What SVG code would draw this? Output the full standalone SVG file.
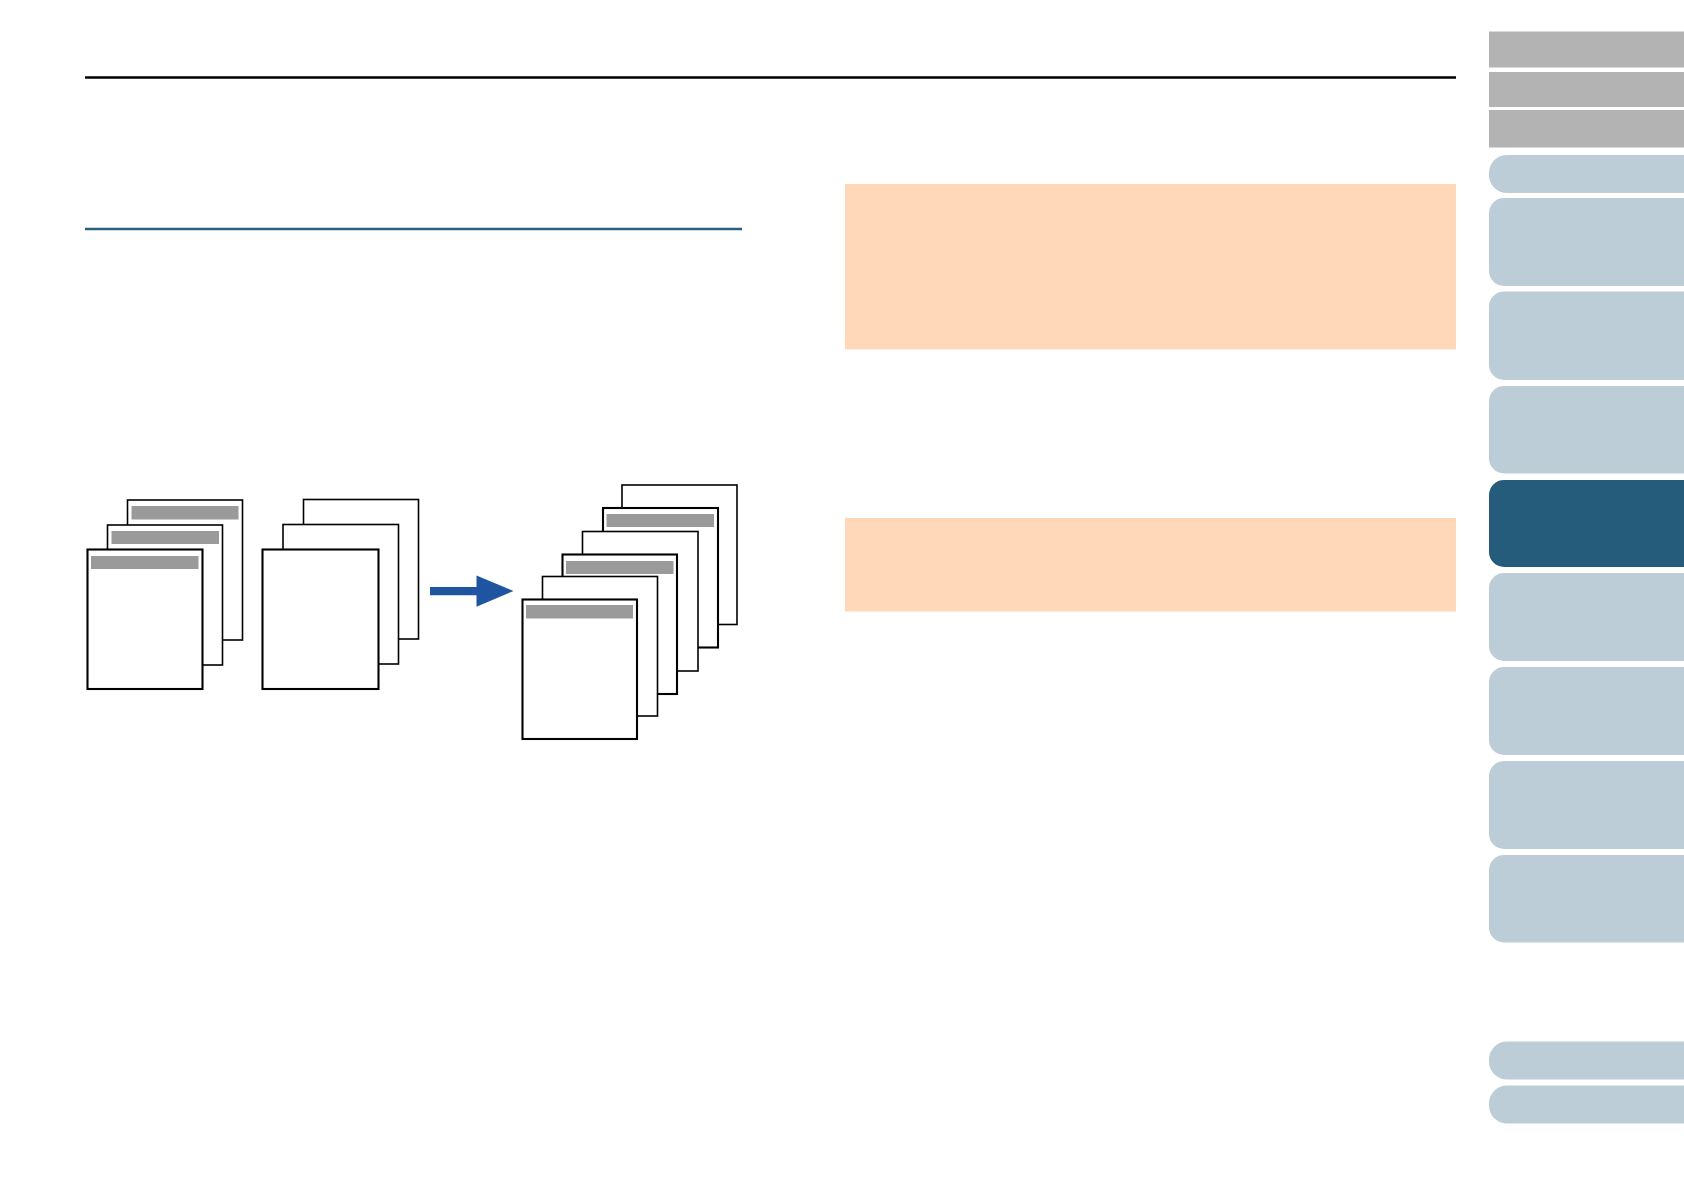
<svg xmlns="http://www.w3.org/2000/svg" width="1684" height="1190" viewBox="0 0 1684 1190">
<style>
.pg{fill:#fff;stroke:#000;stroke-width:1.6}
.pgk{fill:#fff;stroke:#000;stroke-width:2.1}
.bar{fill:#9a9a9a}
.note{fill:#fed8b9}
.tg{fill:#b3b3b3}
.tl{fill:#bdcdd8}
.td{fill:#255b7b}
</style>
<rect width="1684" height="1190" fill="#fff"/>
<g id="rules">
<line x1="85" y1="77.5" x2="1456" y2="77.5" stroke="#000" stroke-width="2.6"/>
<line x1="85" y1="229" x2="742" y2="229" stroke="#2b5f7e" stroke-width="2.4"/>
</g>
<g id="notes">
<rect class="note" x="845" y="184" width="611" height="165.5"/>
<rect class="note" x="845" y="518" width="611" height="93.5"/>
</g>
<g id="sidebar">
<rect class="tg" x="1489" y="31.5" width="200" height="36"/>
<rect class="tg" x="1489" y="72" width="200" height="35"/>
<rect class="tg" x="1489" y="110" width="200" height="37.5"/>
<rect class="tl" x="1489" y="155" width="220" height="38" rx="18"/>
<rect class="tl" x="1489" y="198" width="220" height="88" rx="15"/>
<rect class="tl" x="1489" y="291.5" width="220" height="88.5" rx="15"/>
<rect class="tl" x="1489" y="386" width="220" height="87.5" rx="15"/>
<rect class="td" x="1489" y="480" width="220" height="87" rx="15"/>
<rect class="tl" x="1489" y="573" width="220" height="88" rx="15"/>
<rect class="tl" x="1489" y="667" width="220" height="88" rx="15"/>
<rect class="tl" x="1489" y="761" width="220" height="88" rx="15"/>
<rect class="tl" x="1489" y="855" width="220" height="87.5" rx="15"/>
<rect class="tl" x="1489" y="1041.5" width="220" height="38" rx="18"/>
<rect class="tl" x="1489" y="1085.5" width="220" height="38" rx="18"/>
</g>
<g id="stack-left">
<g id="page-a"><rect class="pg" x="127.5" y="500" width="115" height="140"/><rect class="bar" x="131.5" y="506" width="107" height="13.5"/></g>
<g id="page-b"><rect class="pg" x="107.5" y="525" width="115" height="140"/><rect class="bar" x="111.5" y="531" width="107.5" height="13"/></g>
<g id="page-c"><rect class="pgk" x="87.5" y="549.5" width="115" height="139.5"/><rect class="bar" x="91" y="556" width="107.5" height="13"/></g>
</g>
<g id="stack-middle">
<g id="page-d"><rect class="pg" x="303.5" y="499.5" width="115" height="139.5"/></g>
<g id="page-e"><rect class="pg" x="283" y="524.5" width="115.5" height="139.5"/></g>
<g id="page-f"><rect class="pgk" x="262.5" y="549.5" width="116" height="139.5"/></g>
</g>
<g id="connectors">
<path d="M430 587 H476.5 V575.5 L513.5 591 L476.5 606.7 V595.3 H430 Z" fill="#1f55a0"/>
</g>
<g id="stack-right">
<g id="page-r1"><rect class="pg" x="622" y="485" width="115" height="139.5"/></g>
<g id="page-r2"><rect class="pgk" x="603" y="508" width="115" height="139.5"/><rect class="bar" x="606.5" y="514" width="107.5" height="13"/></g>
<g id="page-r3"><rect class="pg" x="582.5" y="531.5" width="115.5" height="139.5"/></g>
<g id="page-r4"><rect class="pgk" x="562.5" y="554.5" width="114.5" height="139.5"/><rect class="bar" x="566" y="561" width="107.5" height="13"/></g>
<g id="page-r5"><rect class="pg" x="542.5" y="576.5" width="115" height="139.5"/></g>
<g id="page-r6"><rect class="pgk" x="522.5" y="599.5" width="114.5" height="139.5"/><rect class="bar" x="526" y="605" width="107" height="13.5"/></g>
</g>
</svg>
